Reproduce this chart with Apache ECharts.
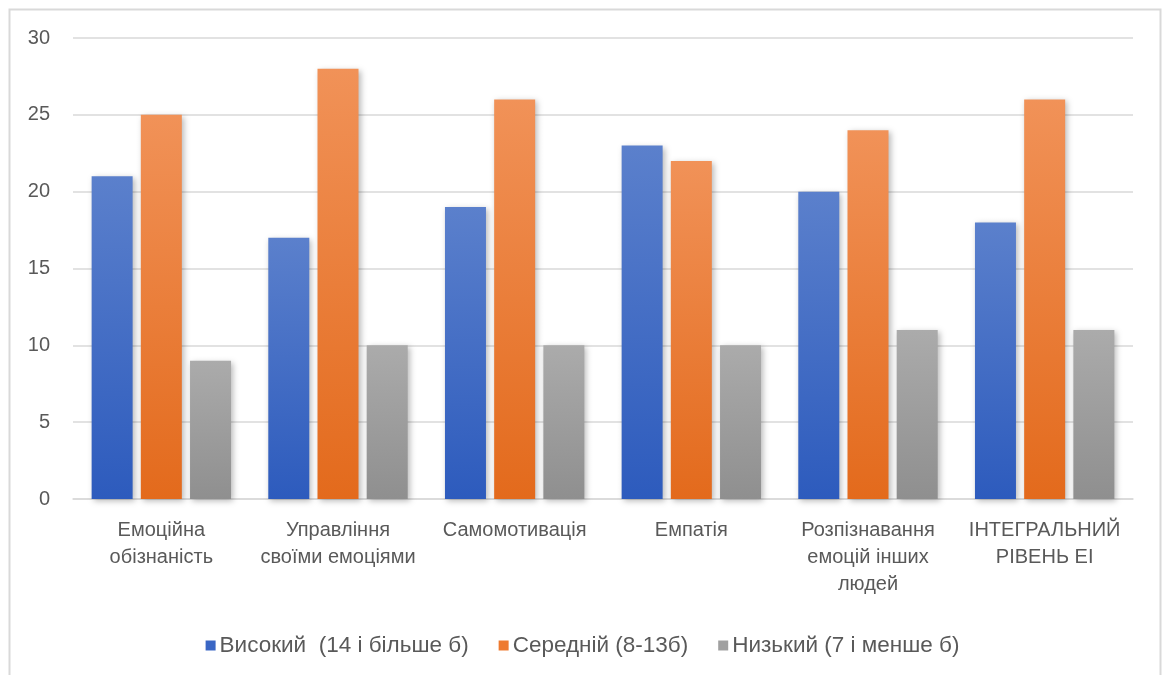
<!DOCTYPE html>
<html>
<head>
<meta charset="utf-8">
<script src="https://cdn.jsdelivr.net/npm/echarts@6/dist/echarts.min.js"></script>
<style>
  html, body { margin: 0; padding: 0; background: #fff; }
  #chart { width: 1165px; height: 675px; }
</style>
</head>
<body>
<div id="chart"></div>
<script>
// Категорії шкал емоційного інтелекту
const categories = [
  'Емоційна\nобізнаність',
  'Управління\nсвоїми емоціями',
  'Самомотивація',
  'Емпатія',
  'Розпізнавання\nемоцій інших\nлюдей',
  'ІНТЕГРАЛЬНИЙ\nРІВЕНЬ ЕІ'
];
const seriesNames = ['Високий  (14 і більше б)', 'Середній (8-13б)', 'Низький (7 і менше б)'];
const highValues = [21, 17, 19, 23, 20, 18];
const midValues = [25, 28, 26, 22, 24, 26];
const lowValues = [9, 10, 10, 10, 11, 11];
const yTicks = { min: 0, max: 30, interval: 5 };

const FONT = '"Liberation Sans", sans-serif';
const TEXT = '#595959';

function grad(top, bottom) {
  return new echarts.graphic.LinearGradient(0, 0, 0, 1, [
    { offset: 0, color: top },
    { offset: 1, color: bottom }
  ]);
}

const styles = [
  { fill: grad('#5b80cc', '#2d5bbd'), legend: '#3a66c4' },
  { fill: grad('#f19258', '#e36a1c'), legend: '#ee7a30' },
  { fill: grad('#ababab', '#8f8f8f'), legend: '#a0a0a0' }
];
const values = [highValues, midValues, lowValues];

const chart = echarts.init(document.getElementById('chart'));
chart.setOption({
  backgroundColor: '#fff',
  animation: false,
  textStyle: { fontFamily: FONT },
  graphic: [{
    type: 'rect',
    shape: { x: 9.5, y: 9.5, width: 1151, height: 720 },
    style: { fill: 'none', stroke: '#d9d9d9', lineWidth: 2 },
    silent: true
  }],
  grid: { left: 73, right: 32, top: 38, bottom: 176, containLabel: false },
  legend: {
    top: 629,
    left: 'center',
    itemWidth: 10,
    itemHeight: 10,
    itemGap: 30,
    icon: 'rect',
    textStyle: { color: TEXT, fontSize: 22.5, fontFamily: FONT, padding: [0, 0, 0, -1] },
    data: seriesNames.map((n, i) => ({ name: n, itemStyle: { color: styles[i].legend } }))
  },
  xAxis: {
    type: 'category',
    data: categories,
    axisLine: { show: true, lineStyle: { color: '#d9d9d9', width: 1.5 } },
    axisTick: { show: false },
    axisLabel: {
      color: TEXT, fontSize: 20, fontFamily: FONT, lineHeight: 27,
      margin: 18, interval: 0, align: 'center'
    }
  },
  yAxis: {
    type: 'value',
    min: yTicks.min, max: yTicks.max, interval: yTicks.interval,
    axisLine: { show: false },
    axisTick: { show: false },
    splitLine: { lineStyle: { color: '#d9d9d9', width: 1.5 } },
    axisLabel: { color: TEXT, fontSize: 20, fontFamily: FONT, margin: 23 }
  },
  series: seriesNames.map((name, i) => ({
    name,
    type: 'bar',
    data: values[i],
    barWidth: 41,
    barGap: '20%',
    itemStyle: {
      color: styles[i].fill,
      shadowBlur: 6,
      shadowOffsetX: 2,
      shadowOffsetY: 2,
      shadowColor: 'rgba(0,0,0,0.28)'
    }
  }))
});
</script>
</body>
</html>
